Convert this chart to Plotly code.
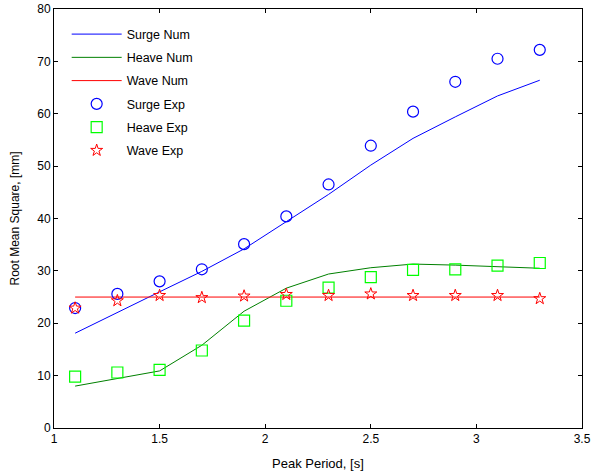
import plotly.graph_objects as go

period = [1.1, 1.3, 1.5, 1.7, 1.9, 2.1, 2.3, 2.5, 2.7, 2.9, 3.1, 3.3]

surge_num = [18.1, 22.1, 26.0, 29.9, 34.2, 39.4, 44.6, 50.2, 55.3, 59.4, 63.4, 66.4]
heave_num = [8.0, 9.5, 10.9, 15.8, 22.3, 26.7, 29.4, 30.6, 31.3, 31.1, 30.8, 30.5]
wave_num = [25.0, 25.0, 25.0, 25.0, 25.0, 25.0, 25.0, 25.0, 25.0, 25.0, 25.0, 25.0]

surge_exp = [22.9, 25.6, 28.0, 30.3, 35.1, 40.4, 46.5, 53.9, 60.4, 66.1, 70.5, 72.2]
heave_exp = [9.8, 10.6, 11.1, 14.8, 20.5, 24.3, 26.8, 28.8, 30.2, 30.3, 31.0, 31.5]
wave_exp = [22.9, 24.3, 25.3, 24.9, 25.2, 25.5, 25.3, 25.6, 25.3, 25.3, 25.3, 24.7]

x_ticks = [1, 1.5, 2, 2.5, 3, 3.5]
x_tick_labels = ["1", "1.5", "2", "2.5", "3", "3.5"]
y_ticks = [0, 10, 20, 30, 40, 50, 60, 70, 80]

x_title = "Peak Period, [s]"
y_title = "Root Mean Square, [mm]"

FONT = "Liberation Sans, Arial, sans-serif"

fig = go.Figure()
fig.add_trace(go.Scatter(x=period, y=surge_num, mode="lines", name="Surge Num",
                         legendgroup="a", line=dict(color="#0000FF", width=1)))
fig.add_trace(go.Scatter(x=period, y=heave_num, mode="lines", name="Heave Num",
                         legendgroup="b", line=dict(color="#008000", width=1)))
fig.add_trace(go.Scatter(x=period, y=wave_num, mode="lines", name="Wave Num",
                         legendgroup="c", line=dict(color="#FF0000", width=1)))
fig.add_trace(go.Scatter(x=period, y=surge_exp, mode="markers", name="Surge Exp",
                         legendgroup="d",
                         marker=dict(symbol="circle-open", size=11, color="#0000FF",
                                     line=dict(width=1.2))))
fig.add_trace(go.Scatter(x=period, y=heave_exp, mode="markers", name="Heave Exp",
                         legendgroup="e",
                         marker=dict(symbol="square-open", size=11, color="#00FF00",
                                     line=dict(width=1.2))))
fig.add_trace(go.Scatter(x=period, y=wave_exp, mode="markers", name="Wave Exp",
                         legendgroup="f",
                         marker=dict(symbol="star-open", size=9, color="#FF0000",
                                     line=dict(width=1))))

axis_common = dict(
    showline=True, linecolor="black", linewidth=1, mirror="allticks",
    ticks="inside", ticklen=4, tickcolor="black", tickwidth=1,
    showgrid=False, zeroline=False, automargin=False,
    tickfont=dict(family=FONT, size=12, color="black"),
)

fig.update_layout(
    width=594, height=472,
    margin=dict(l=54, r=12, t=9, b=44),
    paper_bgcolor="white", plot_bgcolor="white",
    font=dict(family=FONT, size=11, color="black"),
    xaxis=dict(range=[1, 3.5], tickvals=x_ticks, ticktext=x_tick_labels, **axis_common),
    yaxis=dict(range=[0, 80], tickvals=y_ticks, **axis_common),
    legend=dict(x=0.024, y=0.975, xanchor="left", yanchor="top",
                bgcolor="rgba(255,255,255,0)", borderwidth=0,
                font=dict(family=FONT, size=12.5), tracegroupgap=4,
                itemwidth=50),
    showlegend=True,
    annotations=[
        dict(text=x_title, xref="paper", yref="paper", x=0.5, y=0,
             yshift=-35, xanchor="center", yanchor="middle", showarrow=False,
             font=dict(family=FONT, size=13)),
        dict(text=y_title, xref="paper", yref="paper", x=0, y=0.5,
             xshift=-40, xanchor="center", yanchor="middle", showarrow=False,
             textangle=-90, font=dict(family=FONT, size=12)),
    ],
)

fig.write_html("out.html")
